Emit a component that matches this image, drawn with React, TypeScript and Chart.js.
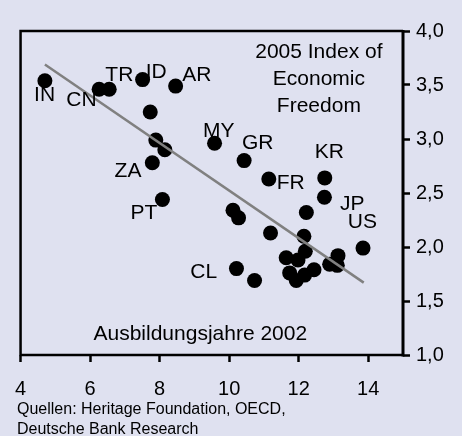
import React, { useEffect, useRef } from "react";
import { Chart, registerables } from "chart.js";

Chart.register(...registerables);

// Ausbildungsjahre 2002 (x) vs. 2005 Index of Economic Freedom (y)
const pointX = [4.70, 6.26, 6.55, 7.51, 8.46, 7.73, 7.89, 8.15, 7.79, 8.08, 9.58, 10.43, 11.14, 12.75, 12.74, 12.22, 10.11, 10.27, 11.19, 12.15, 13.85, 12.19, 11.64, 11.98, 13.13, 12.89, 13.11, 10.21, 10.73, 11.74, 11.93, 12.17, 12.44];
const pointY = [3.54, 3.46, 3.46, 3.55, 3.49, 3.25, 2.99, 2.90, 2.78, 2.44, 2.96, 2.80, 2.63, 2.64, 2.46, 2.32, 2.34, 2.27, 2.13, 2.10, 1.99, 1.96, 1.90, 1.88, 1.92, 1.84, 1.83, 1.80, 1.69, 1.76, 1.69, 1.74, 1.79];

// Trend line (start / end)
const trendX = [4.70, 13.87];
const trendY = [3.69, 1.67];

// Country labels, anchored in data units
const labelText = ["IN", "CN", "TR", "ID", "AR", "MY", "GR", "FR", "KR", "JP", "US", "CL", "ZA", "PT"];
const labelX = [4.69, 5.75, 6.84, 7.90, 9.07, 9.70, 10.82, 11.77, 12.88, 13.54, 13.83, 9.27, 7.09, 7.55];
const labelY = [3.41, 3.36, 3.59, 3.62, 3.59, 3.07, 2.96, 2.59, 2.88, 2.40, 2.23, 1.77, 2.70, 2.31];

const xTicks = [4, 6, 8, 10, 12, 14];
const yTicks = [1.0, 1.5, 2.0, 2.5, 3.0, 3.5, 4.0];

const indexTitle = ["2005 Index of", "Economic", "Freedom"];
const xTitle = "Ausbildungsjahre 2002";
const sourceLines = ["Quellen: Heritage Foundation, OECD,", "Deutsche Bank Research"];

const FONT = '"Liberation Sans", Arial, Helvetica, sans-serif';
const BG = "#dfe1f0";

const overlay = {
  id: "overlay",
  afterDatasetsDraw(chart: any) {
    const { ctx, chartArea: a, scales } = chart;
    const xs = scales.x;
    const ys = scales.y;
    ctx.save();
    ctx.strokeStyle = "#000";
    ctx.lineCap = "butt";
    // frame
    ctx.lineWidth = 2.5;
    ctx.beginPath();
    ctx.moveTo(a.left, a.bottom);
    ctx.lineTo(a.left, a.top);
    ctx.lineTo(a.right, a.top);
    ctx.moveTo(a.left - 1, a.bottom);
    ctx.lineTo(a.right, a.bottom);
    ctx.stroke();
    ctx.lineWidth = 3;
    ctx.beginPath();
    ctx.moveTo(a.right, a.top - 1);
    ctx.lineTo(a.right, a.bottom + 1.5);
    ctx.stroke();

    ctx.fillStyle = "#000";
    ctx.textAlign = "center";
    ctx.textBaseline = "middle";
    ctx.font = `21px ${FONT}`;
    labelText.forEach((t, i) => {
      ctx.fillText(t, xs.getPixelForValue(labelX[i]), ys.getPixelForValue(labelY[i]));
    });

    const cx = a.left + (a.right - a.left) * 0.78;
    indexTitle.forEach((t, i) => {
      ctx.fillText(t, cx, a.top + 21 + i * 27);
    });
    ctx.fillText(xTitle, a.left + (a.right - a.left) * 0.47, a.bottom - 21);

    ctx.textAlign = "left";
    ctx.font = `16px ${FONT}`;
    sourceLines.forEach((t, i) => {
      ctx.fillText(t, 17, a.bottom + 55 + i * 20);
    });
    ctx.restore();
  },
};

export default function App() {
  const ref = useRef<HTMLCanvasElement>(null);
  useEffect(() => {
    if (!ref.current) return;
    const chart = new Chart(ref.current, {
      type: "scatter",
      data: {
        datasets: [
          {
            type: "line",
            data: trendX.map((x, i) => ({ x, y: trendY[i] })),
            borderColor: "#808080",
            borderWidth: 2.5,
            pointRadius: 0,
            fill: false,
            order: 0,
          } as any,
          {
            data: pointX.map((x, i) => ({ x, y: pointY[i] })),
            backgroundColor: "#000",
            borderColor: "#000",
            pointRadius: 7.5,
            pointHoverRadius: 7.5,
            borderWidth: 0,
            order: 1,
          },
        ],
      },
      options: {
        responsive: false,
        animation: false,
        devicePixelRatio: 1,
        layout: { padding: { left: 19, top: 31, right: 0, bottom: 0 } },
        plugins: { legend: { display: false }, tooltip: { enabled: false }, title: { display: false } },
        scales: {
          x: {
            type: "linear",
            min: 4,
            max: 15,
            afterFit: (s: any) => { s.height = 81; },
            afterBuildTicks: (s: any) => { s.ticks = xTicks.map((v) => ({ value: v })); },
            border: { display: false },
            grid: { drawOnChartArea: false, drawTicks: true, tickLength: 7, tickColor: "#000", tickWidth: 2.5, color: "#000" },
            ticks: {
              color: "#000",
              font: { family: FONT, size: 20 },
              padding: 15,
              maxRotation: 0,
              callback: (v: any) => String(v),
            },
          },
          y: {
            type: "linear",
            position: "right",
            min: 1,
            max: 4,
            afterFit: (s: any) => { s.width = 59; },
            afterBuildTicks: (s: any) => { s.ticks = yTicks.map((v) => ({ value: v })); },
            border: { display: false },
            grid: { drawOnChartArea: false, drawTicks: true, tickLength: 7, tickColor: "#000", tickWidth: 2.5, color: "#000" },
            ticks: {
              color: "#000",
              font: { family: FONT, size: 20 },
              padding: 6,
              callback: (v: any) => Number(v).toFixed(1).replace(".", ","),
            },
          },
        },
      },
      plugins: [overlay],
    });
    return () => chart.destroy();
  }, []);
  return (
    <div style={{ position: "fixed", left: 0, top: 0, width: 462, height: 436, background: BG }}>
      <canvas ref={ref} width={462} height={436} style={{ display: "block" }} />
    </div>
  );
}
